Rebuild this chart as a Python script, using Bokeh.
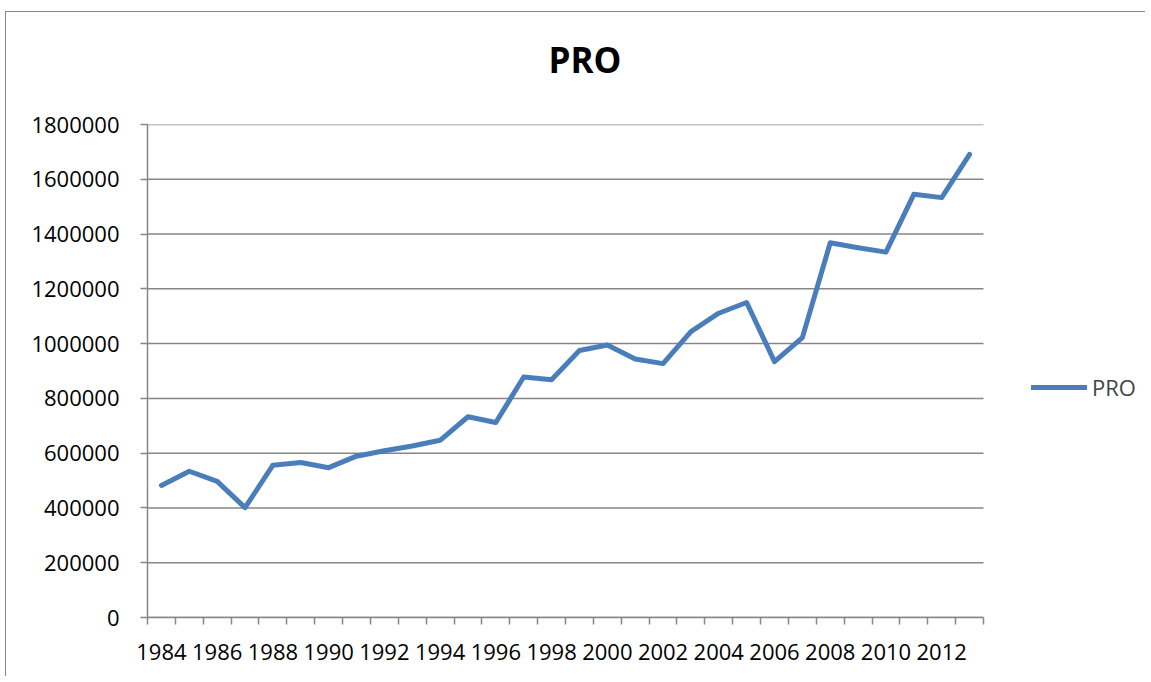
from bokeh.plotting import figure
from bokeh.models import (FixedTicker, BasicTickFormatter, Legend, LegendItem,
                          Title, Range1d, ColumnDataSource)
from bokeh.embed import file_html
from bokeh.resources import INLINE

years = list(range(1984, 2014))
pro = [482000, 534000, 497000, 401000, 556000, 566000, 547000, 589000, 609000, 626000,
       647000, 733000, 712000, 878000, 868000, 975000, 995000, 944000, 927000, 1044000,
       1111000, 1150000, 934000, 1022000, 1368000, 1350000, 1334000, 1545000, 1533000, 1691000]
y_ticks = [0, 200000, 400000, 600000, 800000, 1000000, 1200000, 1400000, 1600000, 1800000]
x_label_years = list(range(1984, 2013, 2))
title_text = "PRO"
series_name = "PRO"

FONT = "Open Sans"
GRID = "#868686"
BLUE = "#4A7EBB"

# plot area: 30 category slots span 836 px; the frame is extended to the right
# (blank area that holds the legend), the grid and axis are bounded to the data slots
x0 = years[0] - 0.5
x1 = years[-1] + 0.5
slot_px = 836 / len(years)
frame_px = 999
x_end = x0 + frame_px / slot_px

p = figure(width=1140, height=665, output_backend="svg", toolbar_location=None,
           x_range=Range1d(x0, x_end), y_range=Range1d(0, 1800000),
           min_border_left=141, min_border_right=0, min_border_top=112, min_border_bottom=60,
           title=None)
p.margin = (11, 0, 0, 5)
p.styles = {"border-left": "1px solid #878787", "border-top": "1px solid #878787"}
p.outline_line_color = None
p.background_fill_color = "white"
p.border_fill_color = "white"

# horizontal gridlines bounded to the category area
p.segment(x0=[x0] * len(y_ticks), x1=[x1] * len(y_ticks), y0=y_ticks, y1=y_ticks,
          line_color=GRID, line_width=1.5)

src = ColumnDataSource(dict(x=years, y=pro))
r = p.line("x", "y", source=src, line_color=BLUE, line_width=5, line_join="round", line_cap="round")

# x axis
boundaries = [y - 0.5 for y in years] + [x1]
p.xaxis.bounds = (x0, x1)
p.xaxis.ticker = FixedTicker(ticks=x_label_years, minor_ticks=boundaries)
p.xaxis.major_tick_line_color = None
p.xaxis.minor_tick_line_color = GRID
p.xaxis.minor_tick_out = 7
p.xaxis.minor_tick_in = 0
p.xaxis.minor_tick_line_width = 1.5
p.xaxis.axis_line_color = GRID
p.xaxis.axis_line_width = 1.5
p.xaxis.major_label_text_font = FONT
p.xaxis.major_label_text_font_size = "22px"
p.xaxis.major_label_text_color = "black"
p.xaxis.major_label_standoff = 19

# y axis
p.yaxis.ticker = FixedTicker(ticks=y_ticks)
p.yaxis.formatter = BasicTickFormatter(use_scientific=False)
p.yaxis.major_tick_out = 7
p.yaxis.major_tick_in = 0
p.yaxis.major_tick_line_color = GRID
p.yaxis.major_tick_line_width = 1.5
p.yaxis.minor_tick_line_color = None
p.yaxis.axis_line_color = GRID
p.yaxis.axis_line_width = 1.5
p.yaxis.major_label_text_font = FONT
p.yaxis.major_label_text_font_size = "22px"
p.yaxis.major_label_text_color = "black"
p.yaxis.major_label_standoff = 21

p.xgrid.grid_line_color = None
p.ygrid.grid_line_color = None

# title (a blank spacer title sits between the frame and the real title)
spacer_title = Title(text=" ", text_font_size="2px", standoff=33)
p.add_layout(spacer_title, "above")
t = Title(text=title_text, align="left", offset=401, standoff=10, text_font=FONT,
          text_font_style="bold", text_font_size="35px", text_color="black")
p.add_layout(t, "above")

legend = Legend(items=[LegendItem(label=series_name, renderers=[r])],
                location=(884, 215), padding=0, margin=0, spacing=0,
                border_line_color=None, background_fill_alpha=0,
                glyph_width=56, glyph_height=24, label_height=24,
                label_standoff=5, label_text_font=FONT, label_text_font_size="22px")
p.add_layout(legend, "center")

open("out.html", "w").write(file_html(p, INLINE))
